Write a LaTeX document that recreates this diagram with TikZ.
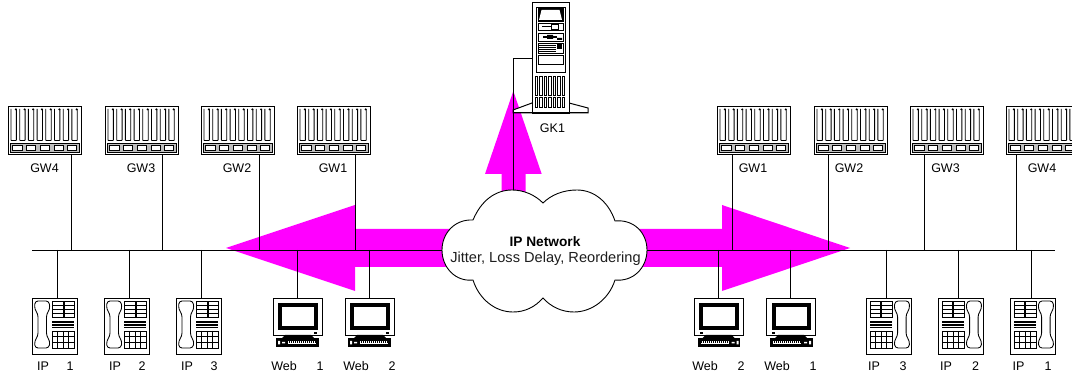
\documentclass[tikz,border=0pt]{standalone}
\usepackage{fontspec}
\setmainfont{Liberation Sans}
\definecolor{arrowmag}{RGB}{255,0,255}
\definecolor{linegray}{RGB}{30,30,30}
\definecolor{panelgray}{RGB}{190,190,190}
\tikzset{
  x=1pt,y=-1pt,
  conn/.style={draw=black,line width=0.9pt},
  iconline/.style={draw=black,line width=0.85pt},
  gwbox/.style={draw=black,line width=1.4pt,fill=white,anchor=north west,inner sep=0pt,minimum width=73pt,minimum height=48pt},
  phonebox/.style={draw=black,line width=1.1pt,fill=white,anchor=north west,inner sep=0pt,minimum width=45pt,minimum height=56pt},
  pcbox/.style={draw=black,line width=1.1pt,fill=white,anchor=north west,inner sep=0pt,minimum width=49pt,minimum height=37pt},
  srvbox/.style={draw=black,line width=1.1pt,fill=white,anchor=north west,inner sep=0pt,minimum width=37pt,minimum height=111pt},
  lbl/.style={font=\fontsize{12.5}{14}\selectfont,text=black,inner sep=0pt},
  flow/.style={fill=arrowmag,draw=none},
  gwdetail/.pic={
    \foreach \i in {0,...,7}{
      \draw[iconline,rounded corners=0.5pt] ({3+8.7*\i},3) -- ({3+8.7*\i},34.5) -- ({8.4+8.7*\i},34.5) -- ({8.4+8.7*\i},3);
      \fill[black] ({7.8+8.7*\i},3.4) circle (1.1);
    }
    \draw[iconline,fill=panelgray] (2,37) rectangle (71,46.5);
    \foreach \a in {4.5,18,32,46,59}{
      \draw[iconline,fill=white] (\a,39.5) rectangle ({\a+9.5},44);
    }
  },
  phonedetail/.pic={
    \draw[iconline,rounded corners=3pt] (3,3) -- (17,3) -- (18,11) -- (14.5,16) -- (14.5,38) -- (18,43) -- (17,50) -- (3,50) -- (2.5,43) -- (6,38) -- (6,16) -- (2.5,11) -- cycle;
    \draw[iconline] (20,3) rectangle (31,19) (32,3) rectangle (42,19);
    \foreach \r in {7,11,15}{\draw[iconline] (20,\r) -- (31,\r) (32,\r) -- (42,\r);}
    \foreach \r in {23,24.6,26.2,27.8,29.4}{\draw[iconline] (20,\r) -- (42,\r);}
    \draw[iconline] (20,33) rectangle (42,50);
    \foreach \r in {38.5,44}{\draw[iconline] (20,\r) -- (42,\r);}
    \foreach \c in {25.5,31,36.5}{\draw[iconline] (\c,33) -- (\c,50);}
  },
  pcdetail/.pic={
    \draw[black,line width=4pt] (7,7) rectangle (42.5,30);
    \fill[black] (41,34) rectangle (44,36);
    \fill[black] (12,37) -- (38,37) -- (41,40) -- (9,40) -- cycle;
    \fill[black] (3.3,40) rectangle (45.7,49);
    \fill[white] (15,43.5) rectangle (43,46.5);
    \foreach \k in {0,...,13}{\fill[black] ({15.5+2*\k},43.5) rectangle ({16.3+2*\k},45);}
    \fill[white] (5,43) rectangle (7,46.5) (9,44) rectangle (12,45.5);
  },
  srvdetail/.pic={
    \draw[iconline] (4.7,5) rectangle (33,70);
    \draw[iconline,fill=black] (6,6) rectangle (31,19);
    \fill[white] (9.5,8) -- (27.5,8) -- (30,18) -- (7,18) -- cycle;
    \draw[iconline] (6,21) rectangle (31,28);
    \draw[iconline] (10,24.5) -- (27,24.5);
    \draw[iconline,fill=white] (19,22) rectangle (26,27);
    \draw[iconline] (6,31) rectangle (31,39);
    \draw[black,line width=1.3pt] (11,35) -- (25,35);
    \fill[black] (15,33) rectangle (21,37) (25,36) rectangle (30,38);
    \draw[iconline] (6,41) rectangle (31,51);
    \foreach \r in {43,45,47,49}{\draw[iconline] (7,\r) -- (24,\r);}
    \fill[black] (25,42) rectangle (30,47);
    \draw[iconline] (6,53) rectangle (31,62);
    \foreach \i in {0,...,6}{
      \draw[iconline] ({3+4.5*\i},74) rectangle ({5.8+4.5*\i},93);
      \draw[iconline] ({3+4.5*\i},95) rectangle ({5.8+4.5*\i},105);
    }
  }
}
\begin{document}
\begin{tikzpicture}
\useasboundingbox (0,0) rectangle (1072,379);
\clip (0,0) rectangle (1072,379);
\fill[white] (0,0) rectangle (1072,379);
% flows
\fill[flow] (226,248) -- (355,205) -- (355,229) -- (450,229) -- (450,267) -- (355,267) -- (355,291) -- cycle;
\fill[flow] (850,248) -- (722,205) -- (722,229) -- (630,229) -- (630,267) -- (722,267) -- (722,291) -- cycle;
\fill[flow] (513.3,91) -- (541.7,174) -- (525.7,174) -- (525.7,200) -- (501.7,200) -- (501.7,174) -- (485,174) -- cycle;
% bus
\coordinate (busL) at (32,250);
\coordinate (busR) at (1055,250);
\foreach \n/\x in {a1/57,a2/129,a3/201,a4/297,a5/369,a6/718,a7/790.5,a8/886.5,a9/958.5,a10/1031,
  g1/71,g2/162.5,g3/259,g4/355,g5/732,g6/828,g7/924.5,g8/1016}{
  \coordinate (\n) at (\x,250);
}
% gateways
\node[gwbox] (gwL4) at (8,106) {};   \pic at (gwL4.north west) {gwdetail};
\node[gwbox] (gwL3) at (105,106) {}; \pic at (gwL3.north west) {gwdetail};
\node[gwbox] (gwL2) at (201,106) {}; \pic at (gwL2.north west) {gwdetail};
\node[gwbox] (gwL1) at (297,106) {}; \pic at (gwL1.north west) {gwdetail};
\node[gwbox] (gwR1) at (717,106) {}; \pic at (gwR1.north west) {gwdetail};
\node[gwbox] (gwR2) at (814,106) {}; \pic at (gwR2.north west) {gwdetail};
\node[gwbox] (gwR3) at (910,106) {}; \pic at (gwR3.north west) {gwdetail};
\node[gwbox] (gwR4) at (1006,106) {}; \pic at (gwR4.north west) {gwdetail};
% phones
\node[phonebox] (phL1) at (32,298) {};  \pic at (phL1.north west) {phonedetail};
\node[phonebox] (phL2) at (104,298) {}; \pic at (phL2.north west) {phonedetail};
\node[phonebox] (phL3) at (176,298) {}; \pic at (phL3.north west) {phonedetail};
\node[phonebox] (phR3) at (866,298) {}; \pic[xscale=-1] at (phR3.north east) {phonedetail};
\node[phonebox] (phR2) at (938,298) {}; \pic[xscale=-1] at (phR2.north east) {phonedetail};
\node[phonebox] (phR1) at (1010,298) {}; \pic[xscale=-1] at (phR1.north east) {phonedetail};
% PCs
\node[pcbox] (pcL1) at (273,298) {}; \pic at (pcL1.north west) {pcdetail};
\node[pcbox] (pcL2) at (345,298) {}; \pic at (pcL2.north west) {pcdetail};
\node[pcbox] (pcR2) at (693.5,298) {}; \pic[xscale=-1] at (pcR2.north east) {pcdetail};
\node[pcbox] (pcR1) at (766,298) {}; \pic[xscale=-1] at (pcR1.north east) {pcdetail};
% connectors
\draw[conn] (busL) -- (busR);
\draw[conn] (gwL4.south -| g1) -- (g1);
\draw[conn] (gwL3.south -| g2) -- (g2);
\draw[conn] (gwL2.south -| g3) -- (g3);
\draw[conn] (gwL1.south -| g4) -- (g4);
\draw[conn] (gwR1.south -| g5) -- (g5);
\draw[conn] (gwR2.south -| g6) -- (g6);
\draw[conn] (gwR3.south -| g7) -- (g7);
\draw[conn] (gwR4.south -| g8) -- (g8);
\draw[conn] (a1) -- (phL1.north -| a1);
\draw[conn] (a2) -- (phL2.north -| a2);
\draw[conn] (a3) -- (phL3.north -| a3);
\draw[conn] (a4) -- (pcL1.north -| a4);
\draw[conn] (a5) -- (pcL2.north -| a5);
\draw[conn] (a6) -- (pcR2.north -| a6);
\draw[conn] (a7) -- (pcR1.north -| a7);
\draw[conn] (a8) -- (phR3.north -| a8);
\draw[conn] (a9) -- (phR2.north -| a9);
\draw[conn] (a10) -- (phR1.north -| a10);
% server
\draw[draw=black,line width=1pt,fill=white] (513,113) -- (513,110) -- (532,103) -- (569,103) -- (588,108) -- (588,113) -- cycle;
\node[srvbox] (gk) at (532,2) {};
\pic at (gk.north west) {srvdetail};
\draw[draw=black,line width=1pt] (513,113) -- (588,113);
% cloud
\coordinate (cloudIn) at (513,195);
\draw[conn] (gk.west |- 0,58) -- (513,58) -- (cloudIn);
\node[inner sep=0pt,minimum size=0pt] (cloud) at (545,250) {};
\draw[line width=0.9pt,fill=white]
  (473,220)
  .. controls (481,201) and (495,190) .. (512,190)
  .. controls (524,190) and (535,195) .. (543,203)
  .. controls (551,195) and (563,190) .. (577,190)
  .. controls (595,190) and (609,203) .. (615,221)
  .. controls (634,219) and (647,233) .. (647,250)
  .. controls (647,268) and (633,282) .. (615,280)
  .. controls (609,299) and (592,312) .. (574,312)
  .. controls (562,312) and (551,307) .. (543,298)
  .. controls (535,307) and (525,312) .. (513,312)
  .. controls (495,312) and (479,299) .. (473,280)
  .. controls (456,282) and (442,268) .. (442,250)
  .. controls (442,233) and (455,219) .. (473,220) -- cycle;
\node[lbl,font=\fontsize{13.7}{15}\selectfont\bfseries] (cloudA) at (545,242) {IP Network};
\node[lbl,font=\fontsize{14.6}{16}\selectfont,text=linegray] (cloudB) at (545.5,258.5) {Jitter, Loss Delay, Reordering};
% labels
\foreach \n/\x/\t in {l1/44.5/GW4,l2/141/GW3,l3/237/GW2,l4/333/GW1,l5/753/GW1,l6/849/GW2,l7/945.5/GW3,l8/1042/GW4}{
  \node[lbl] (\n) at (\x,168) {\t};
}
\node[lbl] (gkl) at (552.5,128) {GK1};
\foreach \n/\x/\t in {i1/43/IP,i2/70/1,i3/115/IP,i4/142/2,i5/187/IP,i6/214/3,
   w1/284/Web,w2/320/1,w3/356/Web,w4/392/2,
   w5/705/Web,w6/741/2,w7/777/Web,w8/813/1,
   i7/874/IP,i8/903/3,i9/946/IP,i10/975.5/2,i11/1018.5/IP,i12/1048/1}{
  \node[lbl] (\n) at (\x,366) {\t};
}
\end{tikzpicture}
\end{document}
